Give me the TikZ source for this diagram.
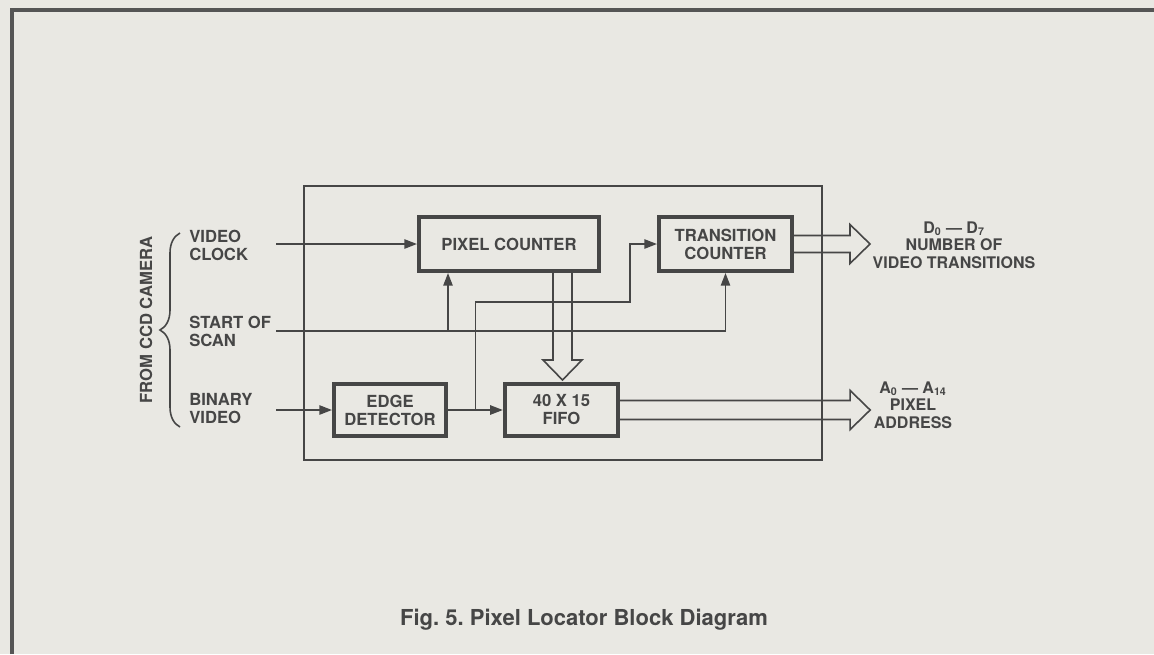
\documentclass[tikz,border=0pt]{standalone}
\usepackage{fontspec}
\setmainfont{TeX Gyre Heros}
\usetikzlibrary{positioning,arrows.meta,calc,decorations.pathreplacing}
\definecolor{paper}{RGB}{233,232,227}
\definecolor{ink}{RGB}{70,70,70}
\definecolor{rim}{RGB}{85,85,85}
\newcommand{\lblfont}{\bfseries\fontsize{12.5}{13.5}\selectfont}
\newcommand{\outfont}{\bfseries\fontsize{12}{13}\selectfont}
\newcommand{\capfont}{\bfseries\fontsize{16.5}{19}\selectfont}

\begin{document}
\begin{tikzpicture}[x=0.75pt, y=-0.75pt,
  block/.style={draw=ink, line width=3pt, inner sep=0pt, align=center, font=\lblfont, text=ink},
  sig/.style={draw=ink, line width=1.2pt},
  sarr/.style={sig, -{Triangle[length=9.5pt, width=7pt]}},
  bus/.style={draw=ink, line width=1.2pt, line join=miter},
  lbl/.style={inner sep=0pt, align=left, font=\lblfont, text=ink}
]
\fill[paper] (0,0) rectangle (1154,654);
\path[use as bounding box] (0,0) rectangle (1154,654);
% page rule and board outline
\draw[rim, line width=3pt] (12,654) -- (12,10) -- (1154,10);
\draw[draw=ink, line width=1pt] (304,186) rectangle (822,460);

\node[block, minimum width=135pt, minimum height=40.5pt] (pc) at (509,244) {PIXEL COUNTER};
\node[block, minimum width=99.75pt, minimum height=40.5pt] (tc) at (725.5,244) {TRANSITION\\COUNTER};
\node[block, minimum width=84pt, minimum height=39pt] (ed) at (390,410) {EDGE\\DETECTOR};
\node[block, minimum width=85pt, minimum height=39pt] (fifo) at (561.5,410) {40 X 15\\FIFO};

% camera inputs
\node[lbl, anchor=west] (vc) at (189,245) {VIDEO\\CLOCK};
\node[lbl, anchor=west] (ss) at (189,331) {START OF\\SCAN};
\node[lbl, anchor=west] (bv) at (189,409) {BINARY\\VIDEO};
\node[lbl, rotate=90] (cam) at (146,320) {FROM CCD CAMERA};
\draw[sig, decorate, decoration={brace, amplitude=15pt}] (180,427) -- (180,233);

\coordinate (vcin) at (276,244);
\coordinate (ssin) at (276,331);
\coordinate (bvin) at (276,410);
\coordinate (pctap) at ($(pc.south west)+(31,0)$);
\coordinate (br) at ($(ed.east)!0.5!(fifo.west)$);
\coordinate (jog) at (630,302);

\draw[sarr] (vcin) -- (pc.west);
\draw[sarr] (ssin) -| (tc.south);
\draw[sarr] (pctap |- ssin) -- (pctap);
\draw[sarr] (bvin) -- (ed.west);
\draw[sarr] (ed) -- (fifo);
\draw[sarr] (br) |- (jog) |- (tc.west);

% wide bus arrows
\draw[bus] ($(pc.south)+(44,0)$) -- ++(0,87) -- ++(-10,0) -- ++(19.5,20) -- ++(19.5,-20) -- ++(-10,0) -- ++(0,-87);
\draw[bus] ($(tc.east)+(0,-8.5)$) -- ++(56,0) -- ++(0,-11) -- ++(20,19.5) -- ++(-20,19.5) -- ++(0,-11) -- ++(-56,0);
\draw[bus] ($(fifo.east)+(0,-9.5)$) -- ++(230,0) -- ++(0,-10) -- ++(20,19.5) -- ++(-20,19.5) -- ++(0,-10) -- ++(-230,0);

\node[lbl, align=center, font=\outfont] (dlab) at (954,245) {D\textsubscript{0} — D\textsubscript{7}\\NUMBER OF\\VIDEO TRANSITIONS};
\node[lbl, align=center, font=\outfont] (alab) at (913,405) {A\textsubscript{0} — A\textsubscript{14}\\PIXEL\\ADDRESS};

\node[font=\capfont, text=ink] (cap) at (584,620) {Fig.\ 5.\ Pixel Locator Block Diagram};
\end{tikzpicture}
\end{document}
